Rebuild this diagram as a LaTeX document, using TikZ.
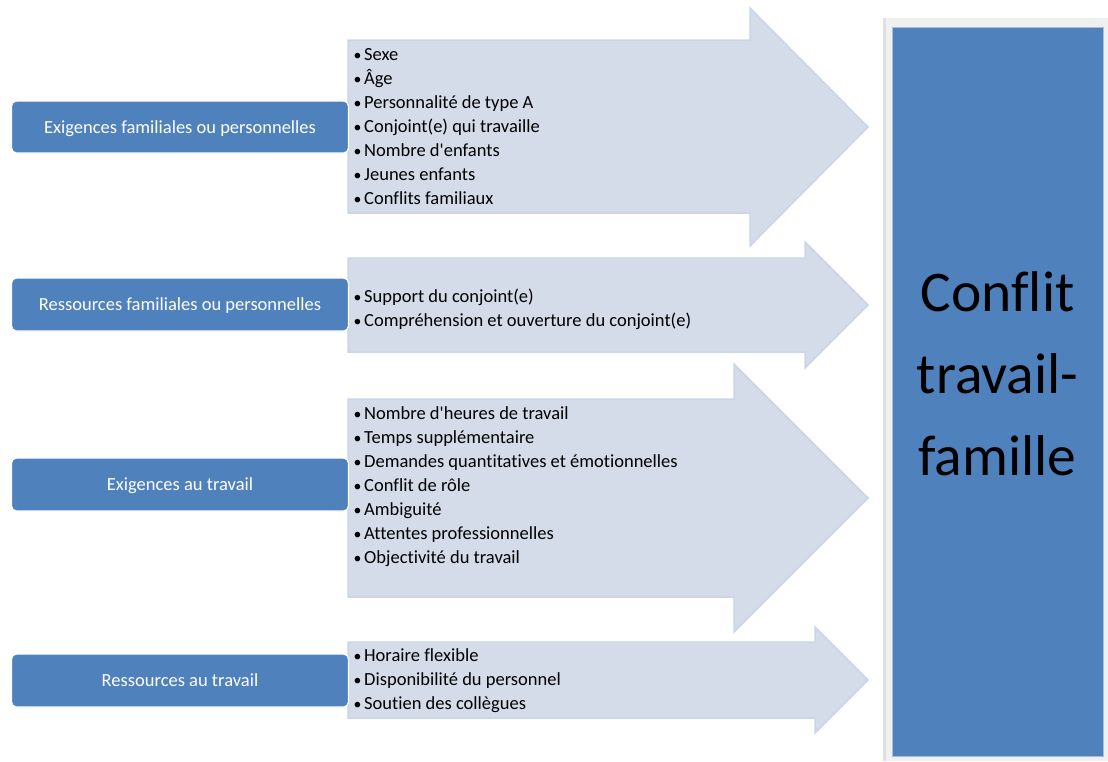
\documentclass[tikz,border=0pt]{standalone}
\usepackage{fontspec}
\setmainfont{Carlito}[Ligatures={CommonOff,TeXOff}]
\definecolor{boxblue}{RGB}{79,129,189}
\definecolor{arrowfill}{RGB}{212,220,234}
\definecolor{arrowedge}{RGB}{203,213,232}
\definecolor{framegray}{RGB}{240,240,240}
\definecolor{bigedge}{RGB}{165,190,222}
\tikzset{
  leftbox/.style={draw=white, line width=1.2pt, fill=boxblue, rounded corners=5pt,
    minimum width=337pt, inner sep=0pt, text=white, text height=14pt, text depth=2pt,
    font=\fontsize{18.5}{22}\selectfont},
  arrowshape/.style={fill=arrowfill, draw=arrowedge, line width=1.5pt, line join=miter},
  itemlist/.style={anchor=west, align=left, inner sep=0pt, text=black,
    font=\fontsize{18.5}{24}\selectfont},
  bigbox/.style={fill=boxblue, draw=bigedge, line width=0.8pt, inner sep=0pt,
    minimum width=211pt, minimum height=729pt},
  bigtext/.style={align=center, inner sep=0pt, text=black,
    font=\fontsize{57.5}{82}\selectfont},
}
\newcommand\itm{\makebox[12pt][l]{\hspace{1.5pt}\scalebox{0.85}{•}}}
\begin{document}
\begin{tikzpicture}[x=1pt,y=-1pt]
  \useasboundingbox[fill=white] (0,0) rectangle (1108,761);

  % block arrows carrying the lists of factors
  \draw[arrowshape] (348,40) -- (750,40) -- (750,8) -- (868,127) -- (750,246) -- (750,213) -- (348,213) -- cycle;
  \draw[arrowshape] (348,258) -- (805,258) -- (805,242) -- (868,305) -- (805,368) -- (805,352) -- (348,352) -- cycle;
  \draw[arrowshape] (348,399) -- (734,399) -- (734,364) -- (868,498) -- (734,632) -- (734,597) -- (348,597) -- cycle;
  \draw[arrowshape] (348,642) -- (815,642) -- (815,627) -- (868,680) -- (815,733) -- (815,718) -- (348,718) -- cycle;

  % factor lists
  \node[itemlist] (t1) at (352,127) {\itm Sexe\\ \itm Âge\\ \itm Personnalité de type A\\ \itm Conjoint(e) qui travaille\\ \itm Nombre d'enfants\\ \itm Jeunes enfants\\ \itm Conflits familiaux};
  \node[itemlist] (t2) at (352,309) {\itm Support du conjoint(e)\\ \itm Compréhension et ouverture du conjoint(e)};
  \node[itemlist] (t3) at (352,487) {\itm Nombre d'heures de travail\\ \itm Temps supplémentaire\\ \itm Demandes quantitatives et émotionnelles\\ \itm Conflit de rôle\\ \itm Ambiguité\\ \itm Attentes professionnelles\\ \itm Objectivité du travail};
  \node[itemlist] (t4) at (352,681) {\itm Horaire flexible\\ \itm Disponibilité du personnel\\ \itm Soutien des collègues};

  % category boxes
  \node[leftbox, minimum height=52pt] (l1) at (180,127) {Exigences familiales ou personnelles};
  \node[leftbox, minimum height=53pt] (l2) at (180,304.5) {Ressources familiales ou personnelles};
  \node[leftbox, minimum height=53pt] (l3) at (180,484.5) {Exigences au travail};
  \node[leftbox, minimum height=53pt] (l4) at (180,680.5) {Ressources au travail};

  % outcome box with its light frame
  \fill[framegray] (883,18) rectangle (1108,761);
  \fill[black!12] (883,18) rectangle (886,761);
  \node[bigbox] (conflit) at (997.5,391.5) {};
  \node[bigtext] (conflittxt) at ([yshift=18pt]conflit.center) {Conflit\\travail-\\famille};
\end{tikzpicture}
\end{document}
